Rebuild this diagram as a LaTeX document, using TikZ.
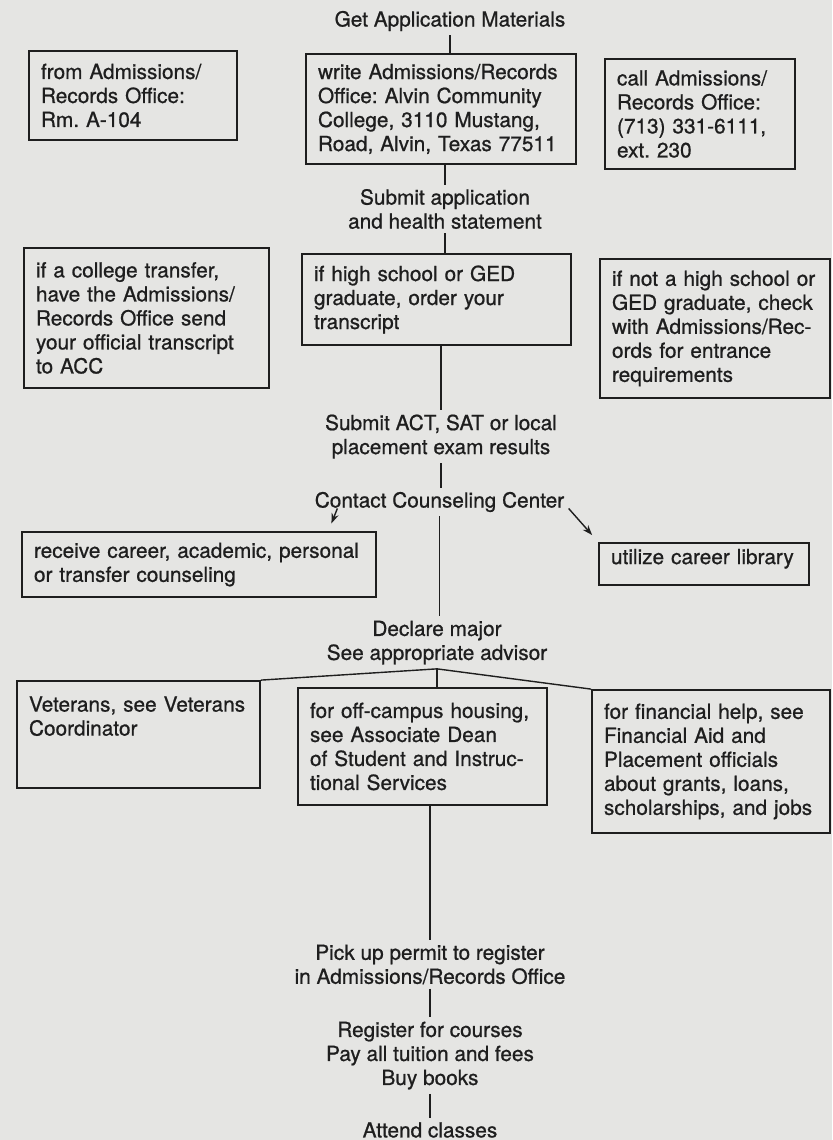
\documentclass[tikz,border=0pt]{standalone}
\usepackage{fontspec}
\newfontfamily\heros[FakeBold=0.8]{TeX Gyre Heros}
\usetikzlibrary{arrows.meta,positioning}
\definecolor{paper}{HTML}{E5E5E3}
\definecolor{ink}{HTML}{1E1E1E}
\frenchspacing
\tikzset{
  panel/.style={draw=ink, line width=0.9pt, align=left, inner xsep=6pt, inner ysep=3pt,
    text=ink, font=\heros\fontsize{10.4}{12}\selectfont},
  caption/.style={align=center, inner sep=2pt, text=ink, font=\heros\fontsize{10.4}{12}\selectfont},
  link/.style={draw=ink, line width=0.7pt},
  flow/.style={-{Stealth[length=5pt,width=3.6pt]}, draw=ink, line width=0.7pt},
}

\begin{document}
\begin{tikzpicture}[x=0.5pt, y=-0.5pt]
  \fill[paper] (0,0) rectangle (832,1140);
  \useasboundingbox (0,0) rectangle (832,1140);

  % get materials
  \node[caption] (title) at (450,21) {Get Application Materials};
  \node[panel, text width=92pt, minimum height=44.5pt] (from) at (133,95.5)
    {from Admissions/\\Records Office:\\Rm. A-104};
  \node[panel, text width=123pt, minimum height=55pt] (write) at (441,109)
    {write Admissions/Records\\Office: Alvin Community\\College, 3110 Mustang,\\Road, Alvin, Texas 77511};
  \node[panel, text width=83pt, minimum height=55pt] (call) at (700,114)
    {call Admissions/\\Records Office:\\(713) 331-6111,\\ext. 230};

  % application
  \node[caption] (submit) at (445,209) {Submit application\\and health statement};
  \node[panel, text width=110.5pt, minimum height=70pt] (transfer) at (146.5,318)
    {if a college transfer,\\have the Admissions/\\Records Office send\\your official transcript\\to ACC};
  \node[panel, text width=122.5pt, minimum height=45.5pt] (highschool) at (436.5,299.5)
    {if high school or GED\\graduate, order your\\transcript};
  \node[panel, text width=103pt, minimum height=69.5pt] (nohigh) at (715,328.5)
    {if not a high school or\\GED graduate, check\\with Admissions/Rec-\\ords for entrance\\requirements};

  % testing and counseling
  \node[caption] (act) at (441,436.6) {Submit ACT, SAT or local\\placement exam results};
  \node[caption] (contact) at (439.5,502) {Contact Counseling Center};
  \node[panel, text width=165pt, minimum height=32.5pt] (counsel) at (199,564.5)
    {receive career, academic, personal\\or transfer counseling};
  \node[panel, text width=93pt, minimum height=21pt, text depth=7.5pt] (utilize) at (704,564)
    {utilize career library};

  % advisor
  \node[caption] (declare) at (437,642.6) {Declare major\\See appropriate advisor};
  \node[panel, text width=109.5pt, minimum height=53.5pt, text depth=30.5pt] (vet) at (138.5,734.5)
    {Veterans, see Veterans\\Coordinator};
  \node[panel, text width=112.5pt, minimum height=58.5pt] (housing) at (422.5,746.5)
    {for off-campus housing,\\see Associate Dean\\of Student and Instruc-\\tional Services};
  \node[panel, text width=107pt, minimum height=71.5pt] (financial) at (711,761.5)
    {for financial help, see\\Financial Aid and\\Placement officials\\about grants, loans,\\scholarships, and jobs};

  % registration
  \node[caption] (pick) at (430,964.4) {Pick up permit to register\\in Admissions/Records Office};
  \node[caption] (register) at (430,1055.6) {Register for courses\\Pay all tuition and fees\\Buy books};
  \node[caption] (attend) at (430,1130) {Attend classes};

  % connectors
  \draw[link] (title.south) -- (title.south |- write.north);
  \draw[link] (write.south -| submit) -- (submit.north);
  \draw[link] (submit.south) -- (submit.south |- highschool.north);
  \draw[link] (highschool.south -| act) -- (act.north);
  \draw[link] (act.south) -- (act.south |- contact.north);
  \draw[flow] ([xshift=13.5pt,yshift=4pt]contact.south west) -- ++(-6,15);
  \draw[flow] ([yshift=4pt]contact.south east) -- ([shift={(-6,-7)}]utilize.north west);
  \draw[link] (contact.south) -- (contact.south |- declare.north);
  \draw[link] (vet.north east) -- (declare.south) -- (financial.north west);
  \draw[link] (declare.south) -- (declare.south |- housing.north);
  \draw[link] (housing.south -| pick) -- (pick.north);
  \draw[link] (pick.south) -- (register.north);
  \draw[link] (register.south) -- (attend.north);
\end{tikzpicture}
\end{document}
